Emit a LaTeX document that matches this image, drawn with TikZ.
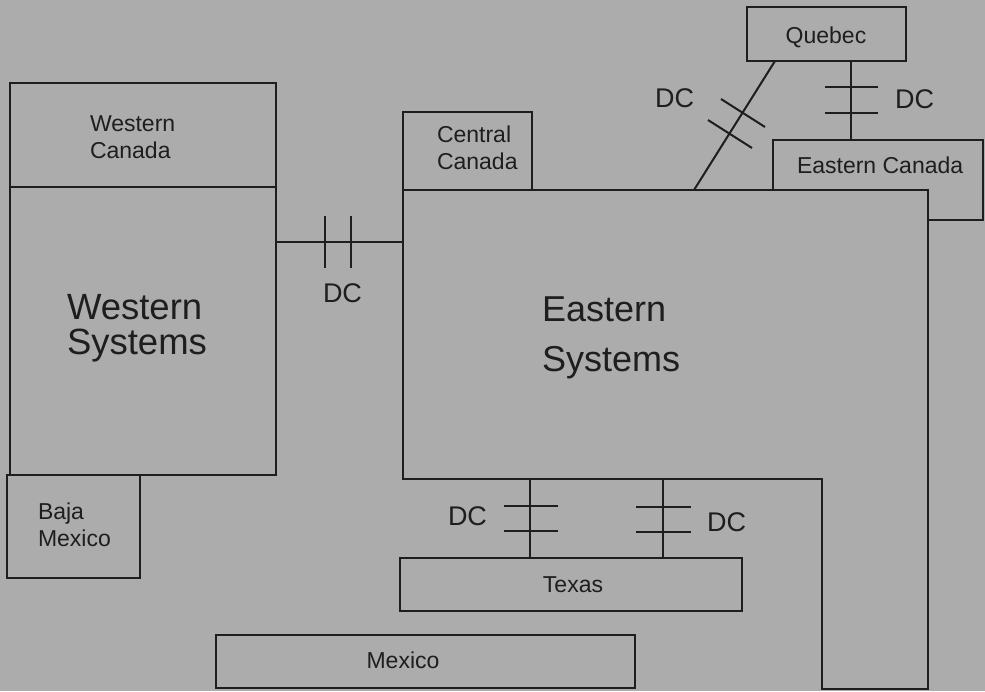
\documentclass[tikz,border=0pt]{standalone}
\usepackage{fontspec}
\setmainfont{Liberation Sans}
\definecolor{bg}{RGB}{172,172,172}
\definecolor{ink}{RGB}{30,30,30}
\begin{document}
\begin{tikzpicture}[x=1pt,y=-1pt,line width=2pt,draw=ink,
  box/.style={draw=ink,fill=bg,inner sep=0pt,outer sep=0pt,anchor=north west},
  lbl/.style={inner sep=0pt,outer sep=0pt,text=ink,align=left},
  small/.style={font=\fontsize{23}{27}\selectfont},
  big/.style={font=\fontsize{36.5}{35}\selectfont},
  dclbl/.style={inner sep=0pt,outer sep=0pt,text=ink,anchor=base west,font=\fontsize{27}{30}\selectfont},
  tick/.style={draw=ink,line width=2pt}]
\fill[bg] (0,0) rectangle (985,691);
\useasboundingbox (0,0) rectangle (985,691);

% boxes
\node[box,minimum width=266pt,minimum height=104pt] (wcan) at (10,83) {};
\node[box,minimum width=266pt,minimum height=288pt] (wsys) at (10,187) {};
\node[box,minimum width=133pt,minimum height=103pt] (baja) at (7,475) {};
\node[box,minimum width=210pt,minimum height=80pt] (ecan) at (773,140) {};
% Eastern Systems outline
\coordinate (esysNW) at (403,190);
\coordinate (esysSW) at (403,479);
\draw[fill=bg] (esysNW) -- (928,190) -- (928,689) -- (822,689) -- (822,479) -- (esysSW) -- cycle;
\node[box,minimum width=129pt,minimum height=78pt] (ccan) at (403,112) {};
\node[box,minimum width=159pt,minimum height=54pt] (quebec) at (747,7) {};
\node[box,minimum width=342pt,minimum height=53pt] (texas) at (400,558) {};
\node[box,minimum width=419pt,minimum height=53pt] (mexico) at (216,635) {};

% connectors
\draw (wsys.east |- 0,242) -- (esysNW |- 0,242);
\draw[tick] (325,216) -- (325,268);
\draw[tick] (351,216) -- (351,268);

\draw (esysSW -| 530,0) -- (texas.north -| 530,0);
\draw[tick] (504,506) -- (558,506);
\draw[tick] (504,531) -- (558,531);
\draw (esysSW -| 663,0) -- (texas.north -| 663,0);
\draw[tick] (636,507) -- (691,507);
\draw[tick] (636,532) -- (691,532);

\draw (quebec.south -| 851,0) -- (ecan.north -| 851,0);
\draw[tick] (825,87) -- (878,87);
\draw[tick] (825,113) -- (878,113);

\draw (quebec.south -| 775,0) -- (esysNW -| 694,0);
\draw[tick] (721,99) -- (765,127);
\draw[tick] (708,120) -- (752,148);

% labels
\node[lbl,small,anchor=west] (twcan) at (90,137) {Western\\Canada};
\node[lbl,big,anchor=west] (twsys) at (67,328) {Western\\Systems};
\node[lbl,font=\fontsize{36}{50}\selectfont,anchor=west] (tesys) at (542,338) {Eastern\\Systems};
\node[lbl,small,anchor=west] (tccan) at (437,148) {Central\\Canada};
\node[lbl,small,anchor=west] (tbaja) at (38,525) {Baja\\Mexico};
\node[lbl,small,anchor=base] (tquebec) at (826,43) {Quebec};
\node[lbl,small,anchor=base west] (tecan) at (797,173) {Eastern Canada};
\node[lbl,small,anchor=base] (ttexas) at (573,592) {Texas};
\node[lbl,small,anchor=base] (tmexico) at (403,668) {Mexico};

\node[dclbl] (dc1) at (655,107) {DC};
\node[dclbl] (dc2) at (895,108) {DC};
\node[dclbl] (dc3) at (323,302) {DC};
\node[dclbl] (dc4) at (448,525) {DC};
\node[dclbl] (dc5) at (707,531) {DC};
\end{tikzpicture}
\end{document}
